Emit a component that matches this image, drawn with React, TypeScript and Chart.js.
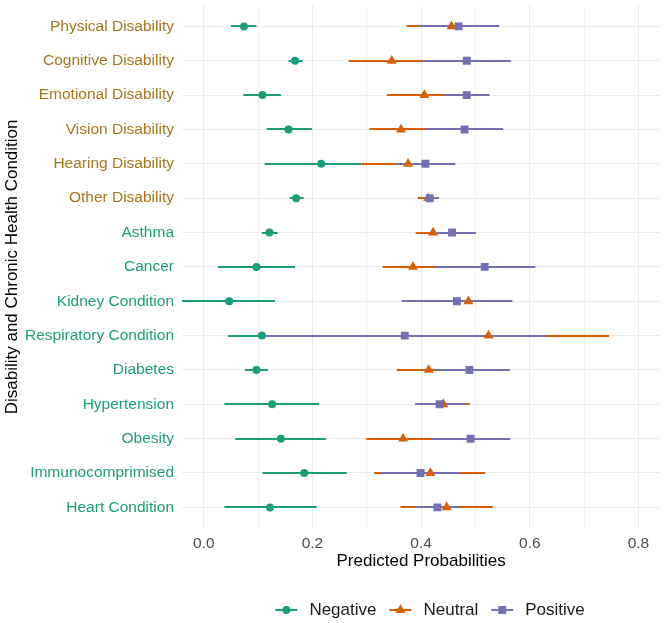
import React, { useEffect, useRef } from 'react';
import { Chart, registerables } from 'chart.js';

Chart.register(...registerables);

const categories = [
  'Physical Disability',
  'Cognitive Disability',
  'Emotional Disability',
  'Vision Disability',
  'Hearing Disability',
  'Other Disability',
  'Asthma',
  'Cancer',
  'Kidney Condition',
  'Respiratory Condition',
  'Diabetes',
  'Hypertension',
  'Obesity',
  'Immunocomprimised',
  'Heart Condition',
];
const disabilityCount = 6;

const negativeMean = [0.074, 0.168, 0.108, 0.156, 0.216, 0.170, 0.121, 0.097, 0.047, 0.107, 0.097, 0.126, 0.142, 0.185, 0.122];
const negativeLow = [0.050, 0.156, 0.073, 0.116, 0.112, 0.158, 0.107, 0.026, -0.060, 0.045, 0.076, 0.038, 0.058, 0.108, 0.038];
const negativeHigh = [0.097, 0.182, 0.142, 0.199, 0.290, 0.184, 0.136, 0.168, 0.131, 0.170, 0.118, 0.212, 0.225, 0.263, 0.208];

const neutralMean = [0.456, 0.346, 0.406, 0.363, 0.376, 0.413, 0.422, 0.385, 0.487, 0.524, 0.414, 0.441, 0.367, 0.417, 0.447];
const neutralLow = [0.373, 0.267, 0.337, 0.305, 0.290, 0.394, 0.390, 0.329, 0.420, 0.330, 0.355, 0.400, 0.299, 0.314, 0.362];
const neutralHigh = [0.530, 0.430, 0.480, 0.430, 0.460, 0.430, 0.460, 0.440, 0.550, 0.746, 0.470, 0.490, 0.440, 0.518, 0.532];

const positiveMean = [0.469, 0.484, 0.484, 0.480, 0.408, 0.416, 0.457, 0.517, 0.466, 0.370, 0.489, 0.434, 0.491, 0.399, 0.430];
const positiveLow = [0.397, 0.403, 0.443, 0.408, 0.354, 0.406, 0.415, 0.425, 0.364, 0.113, 0.425, 0.389, 0.419, 0.327, 0.390];
const positiveHigh = [0.544, 0.565, 0.526, 0.551, 0.463, 0.433, 0.501, 0.610, 0.568, 0.628, 0.563, 0.481, 0.564, 0.471, 0.471];

const xMajorTicks = [0, 0.2, 0.4, 0.6, 0.8];
const xMinorTicks = [0.1, 0.3, 0.5, 0.7];

const FONT = '"Liberation Sans", Arial, Helvetica, sans-serif';
const disabilityColor = '#A6761D';
const conditionColor = '#1B9E77';

const series = [
  { name: 'Negative', color: '#1B9E77', shape: 'circle', radius: 4, mean: negativeMean, lo: negativeLow, hi: negativeHigh },
  { name: 'Neutral', color: '#D95F02', shape: 'triangle', radius: 5.8, mean: neutralMean, lo: neutralLow, hi: neutralHigh },
  { name: 'Positive', color: '#7570B3', shape: 'rect', radius: 5.6, mean: positiveMean, lo: positiveLow, hi: positiveHigh },
];

function drawMarker(ctx: CanvasRenderingContext2D, shape: string, x: number, y: number, r: number) {
  ctx.beginPath();
  if (shape === 'circle') {
    ctx.arc(x, y, r, 0, Math.PI * 2);
  } else if (shape === 'triangle') {
    ctx.moveTo(x, y - r);
    ctx.lineTo(x + 0.866 * r, y + 0.5 * r);
    ctx.lineTo(x - 0.866 * r, y + 0.5 * r);
    ctx.closePath();
  } else {
    const s = Math.SQRT1_2 * r;
    ctx.rect(x - s, y - s, 2 * s, 2 * s);
  }
  ctx.fill();
}

const errorBarPlugin = {
  id: 'errorBars',
  beforeDatasetsDraw(chart: any) {
    const { ctx, chartArea, scales } = chart;
    const x = scales.x;
    const y = scales.y;
    ctx.save();
    ctx.beginPath();
    ctx.rect(chartArea.left, chartArea.top, chartArea.right - chartArea.left, chartArea.bottom - chartArea.top);
    ctx.clip();
    ctx.lineWidth = 2;
    ctx.lineCap = 'butt';
    series.forEach((s) => {
      ctx.strokeStyle = s.color;
      s.lo.forEach((lo, i) => {
        const py = Math.round(y.getPixelForValue(i + 1));
        ctx.beginPath();
        ctx.moveTo(x.getPixelForValue(lo), py);
        ctx.lineTo(x.getPixelForValue(s.hi[i]), py);
        ctx.stroke();
      });
    });
    ctx.restore();
  },
};

const legendPlugin = {
  id: 'customLegend',
  afterDraw(chart: any) {
    const { ctx, chartArea } = chart;
    ctx.save();
    ctx.font = `17px ${FONT}`;
    const keyW = 22;
    const gapText = 12;
    const gapItem = 13;
    const widths = series.map((s) => ctx.measureText(s.name).width);
    const total = series.length * (keyW + gapText) + widths.reduce((a, b) => a + b, 0) + (series.length - 1) * gapItem;
    let cx = (chartArea.left + chartArea.right) / 2 + 9 - total / 2;
    const cy = chart.height - 13;
    series.forEach((s, i) => {
      ctx.strokeStyle = s.color;
      ctx.fillStyle = s.color;
      ctx.lineWidth = 2;
      ctx.beginPath();
      ctx.moveTo(cx, cy);
      ctx.lineTo(cx + keyW, cy);
      ctx.stroke();
      drawMarker(ctx, s.shape, cx + keyW / 2, cy, s.radius);
      cx += keyW + gapText;
      ctx.fillStyle = '#1a1a1a';
      ctx.textAlign = 'left';
      ctx.textBaseline = 'middle';
      ctx.fillText(s.name, cx, cy);
      cx += widths[i] + gapItem;
    });
    ctx.restore();
  },
};

export default function App() {
  const canvasRef = useRef<HTMLCanvasElement | null>(null);

  useEffect(() => {
    document.body.style.margin = '0';
    const canvas = canvasRef.current;
    if (!canvas) return;
    Chart.defaults.font.family = FONT;

    const chart = new Chart(canvas, {
      type: 'scatter',
      data: {
        datasets: series.map((s, k) => ({
          label: s.name,
          data: categories.map((_, i) => ({ x: s.mean[i], y: i + 1 })),
          pointStyle: s.shape as any,
          pointRadius: s.radius,
          pointHoverRadius: s.radius,
          backgroundColor: s.color,
          borderColor: s.color,
          borderWidth: 0,
          order: series.length - k,
        })),
      },
      options: {
        responsive: false,
        animation: false,
        events: [],
        layout: { padding: { top: 3, right: 4, bottom: 51, left: 0 } },
        plugins: {
          legend: { display: false },
          tooltip: { enabled: false },
        },
        scales: {
          x: {
            type: 'linear',
            min: -0.04,
            max: 0.84,
            afterBuildTicks: (scale: any) => {
              scale.ticks = [...xMajorTicks, ...xMinorTicks].sort((a, b) => a - b).map((v) => ({ value: v }));
            },
            afterFit: (scale: any) => {
              scale.height = 44;
              scale.paddingLeft = 0;
              scale.paddingRight = 0;
            },
            ticks: {
              callback: (v: any) => (xMajorTicks.includes(v) ? Number(v).toFixed(1) : ''),
              color: '#4D4D4D',
              font: { size: 15.5, family: FONT },
              padding: 6,
              maxRotation: 0,
              autoSkip: false,
            },
            grid: {
              color: '#EBEBEB',
              lineWidth: (c: any) => (c.tick && xMajorTicks.includes(c.tick.value) ? 1.1 : 0.7),
              drawTicks: false,
            },
            border: { display: false },
            title: {
              display: true,
              text: 'Predicted Probabilities',
              color: '#000000',
              font: { size: 17, family: FONT },
              padding: { top: 0, bottom: 0 },
            },
          },
          y: {
            type: 'linear',
            min: 0.4,
            max: 15.6,
            reverse: true,
            afterBuildTicks: (scale: any) => {
              scale.ticks = categories.map((_, i) => ({ value: i + 1 }));
            },
            afterFit: (scale: any) => {
              scale.width = 182;
              scale.paddingTop = 0;
              scale.paddingBottom = 0;
            },
            ticks: {
              callback: (v: any) => categories[Math.round(v) - 1],
              color: (c: any) => (c.tick && c.tick.value <= disabilityCount ? disabilityColor : conditionColor),
              font: { size: 15.5, family: FONT },
              padding: 8,
              autoSkip: false,
            },
            grid: { color: '#EBEBEB', lineWidth: 1.1, drawTicks: false },
            border: { display: false },
            title: {
              display: true,
              text: 'Disability and Chronic Health Condition',
              color: '#000000',
              font: { size: 17, family: FONT },
              padding: { top: 2, bottom: 0 },
            },
          },
        },
      },
      plugins: [errorBarPlugin, legendPlugin],
    });

    return () => chart.destroy();
  }, []);

  return <canvas ref={canvasRef} width={666} height={623} style={{ display: 'block' }} />;
}
